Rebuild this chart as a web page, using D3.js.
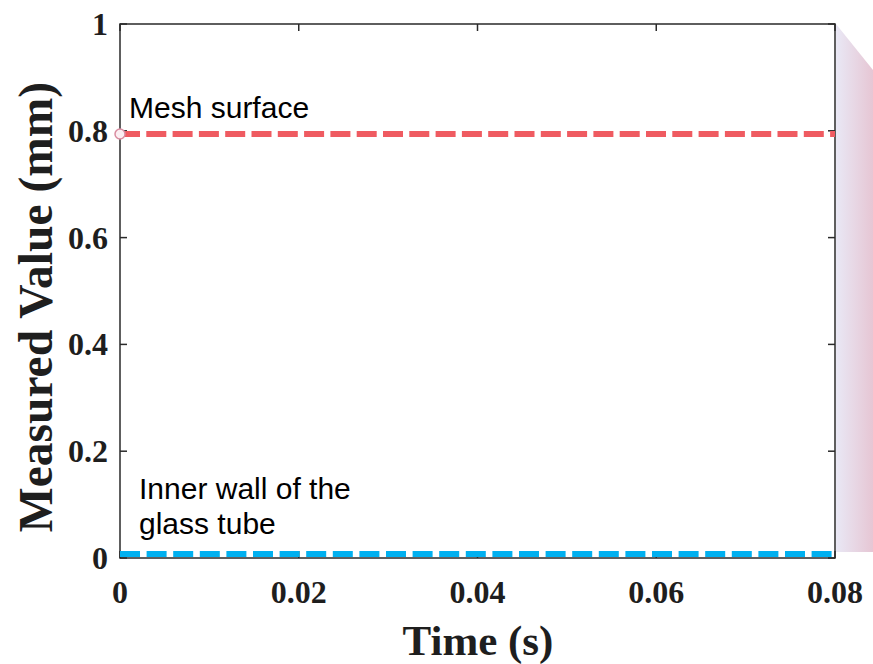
<!DOCTYPE html>
<html>
<head>
<meta charset="utf-8">
<title>Measured Value vs Time</title>
<script src="https://cdnjs.cloudflare.com/ajax/libs/d3/7.8.5/d3.min.js"></script>
<style>
  body { margin: 0; background: #fff; }
  .tick-label { font-family: "Liberation Serif", "Times New Roman", serif; font-weight: bold; font-size: 32px; fill: #1e1e1e; }
  .axis-title { font-family: "Liberation Serif", "Times New Roman", serif; font-weight: bold; fill: #1e1e1e; }
  .note { font-family: "Liberation Sans", Arial, sans-serif; font-size: 30px; fill: #000; }
</style>
</head>
<body>
<div id="chart"></div>
<script>
// values
var times = [0, 0.08];
var meshValues = [0.794, 0.794];   // mesh surface (red)
var wallValues = [0.0075, 0.0075]; // inner wall of the glass tube (blue)
var xTicks = [0, 0.02, 0.04, 0.06, 0.08];
var yTicks = [0, 0.2, 0.4, 0.6, 0.8, 1];
var meshLabel = "Mesh surface";
var wallLabel = ["Inner wall of the", "glass tube"];
var xTitle = "Time (s)";
var yTitle = "Measured Value (mm)";

var W = 873, H = 664;
var svg = d3.select("#chart").append("svg").attr("width", W).attr("height", H);

var x = d3.scaleLinear().domain([0, 0.08]).range([120, 835]);
var y = d3.scaleLinear().domain([0, 1]).range([558, 24]);

// the pink/lavender shape to the right of the frame
var grad = svg.append("defs").append("linearGradient").attr("id", "side")
  .attr("x1", "0%").attr("x2", "100%").attr("y1", "0%").attr("y2", "0%");
grad.append("stop").attr("offset", "0%").attr("stop-color", "#e9e8f5");
grad.append("stop").attr("offset", "100%").attr("stop-color", "#e6c6d4");
svg.append("path")
  .attr("d", "M" + (x.range()[1] + 1) + "," + y(1) + " L" + W + "," + (y(1) + 46) +
             " L" + W + "," + (y(0) - 6) + " L" + (x.range()[1] + 1) + "," + (y(0) - 6) + "Z")
  .attr("fill", "url(#side)");

// frame
svg.append("rect")
  .attr("x", x(0)).attr("y", y(1))
  .attr("width", x(0.08) - x(0)).attr("height", y(0) - y(1))
  .attr("fill", "#fff").attr("stroke", "#2a2a2a").attr("stroke-width", 1.5);

// ticks pointing inward on every side (matlab box style)
var tl = 7;
var ax = svg.append("g").attr("stroke", "#2a2a2a").attr("stroke-width", 1.5);
yTicks.forEach(function(t) {
  ax.append("line").attr("x1", x(0)).attr("x2", x(0) + tl).attr("y1", y(t)).attr("y2", y(t));
  ax.append("line").attr("x1", x(0.08)).attr("x2", x(0.08) - tl).attr("y1", y(t)).attr("y2", y(t));
});
xTicks.forEach(function(t) {
  ax.append("line").attr("x1", x(t)).attr("x2", x(t)).attr("y1", y(0)).attr("y2", y(0) - tl);
  ax.append("line").attr("x1", x(t)).attr("x2", x(t)).attr("y1", y(1)).attr("y2", y(1) + tl);
});

// tick labels
svg.selectAll(".ylab").data(yTicks).enter().append("text")
  .attr("class", "tick-label")
  .attr("x", 108).attr("y", function(d) { return y(d) + 11; })
  .attr("text-anchor", "end")
  .text(function(d) { return String(d); });
svg.selectAll(".xlab").data(xTicks).enter().append("text")
  .attr("class", "tick-label")
  .attr("x", function(d) { return x(d); }).attr("y", 603)
  .attr("text-anchor", "middle")
  .text(function(d) { return String(d); });

// axis titles
svg.append("text").attr("class", "axis-title")
  .attr("x", 478).attr("y", 655).attr("text-anchor", "middle")
  .style("font-size", "43px").text(xTitle);
svg.append("text").attr("class", "axis-title")
  .attr("transform", "translate(52,307) rotate(-90)").attr("text-anchor", "middle")
  .style("font-size", "47.5px").text(yTitle);

// the two dashed lines
var line = d3.line().x(function(d) { return x(d[0]); }).y(function(d) { return y(d[1]); });
svg.append("path")
  .datum(d3.zip(times, wallValues))
  .attr("d", line).attr("fill", "none")
  .attr("stroke", "#00b0f0").attr("stroke-width", 6)
  .attr("stroke-dasharray", "20,6.6");
svg.append("path")
  .datum(d3.zip(times, meshValues))
  .attr("d", line).attr("fill", "none")
  .attr("stroke", "#ef5b61").attr("stroke-width", 6)
  .attr("stroke-dasharray", "20,6.3");

// small marker where the red line starts
svg.append("circle")
  .attr("cx", x(times[0])).attr("cy", y(meshValues[0])).attr("r", 5)
  .attr("fill", "#fbeef2").attr("stroke", "#d98ca0").attr("stroke-width", 1.5);

// annotations
svg.append("text").attr("class", "note").attr("x", 129).attr("y", 118).text(meshLabel);
svg.selectAll(".wall").data(wallLabel).enter().append("text")
  .attr("class", "note").attr("x", 139)
  .attr("y", function(d, i) { return 499 + i * 35; })
  .text(function(d) { return d; });
</script>
</body>
</html>
